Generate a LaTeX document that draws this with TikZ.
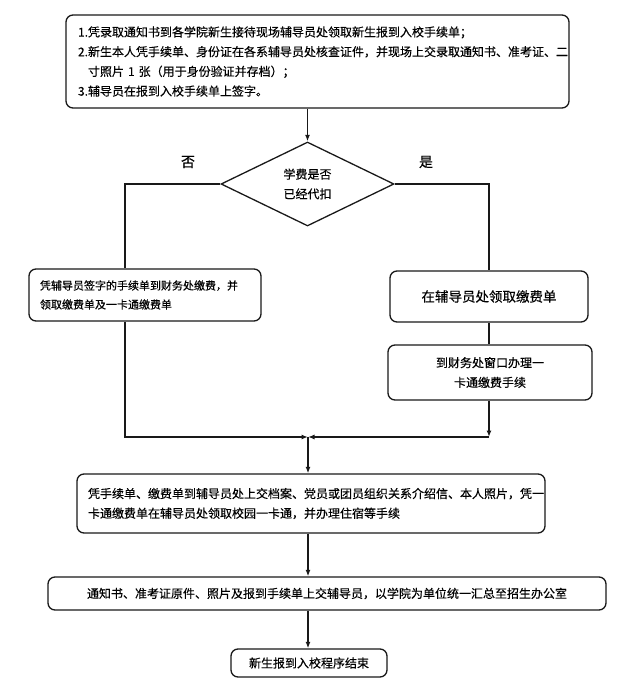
\documentclass[tikz,border=0pt]{standalone}
\usepackage{fontspec}
\newfontfamily\cjk{Noto Sans CJK SC}[FakeBold=0.4]
\usetikzlibrary{shapes.geometric, arrows.meta}

\def\boxrad{7pt}

\begin{document}
\begin{tikzpicture}[x=1pt, y=-1pt, line width=1.3pt, draw=black!90, >={Latex[length=6.5pt, width=5pt]}]
    \tikzstyle{every node}=[font=\cjk\fontsize{12}{19.7}\selectfont]
    \tikzstyle{stepbox}=[draw, rounded corners=\boxrad, inner sep=0pt, align=center]
    \tikzstyle{textbox}=[stepbox, inner xsep=11pt, align=left]
    \tikzstyle{decision}=[draw, diamond, aspect=2, inner sep=0pt, minimum width=173pt, minimum height=84pt, align=center]
    \tikzstyle{answer}=[font=\cjk\fontsize{14}{16}\selectfont]
    \tikzstyle{arr}=[->]

    \useasboundingbox (0,0) rectangle (630,692);

    % steps
    \node[textbox, inner xsep=12pt, text width=479pt, minimum height=93pt] (start) at (317.5,61.5)
        {1.凭录取通知书到各学院新生接待现场辅导员处领取新生报到入校手续单；\\
         2.新生本人凭手续单、身份证在各系辅导员处核查证件，并现场上交录取通知书、准考证、二\\
         \hspace*{10pt}寸照片 1 张（用于身份验证并存档）；\\
         3.辅导员在报到入校手续单上签字。};

    \node[decision] (paid) at (307.5,184) {学费是否\\已经代扣};
    \node[answer] (no) at (188,162) {否};
    \node[answer] (yes) at (426,162) {是};

    \node[textbox, text width=210pt, minimum height=52pt, font=\cjk\fontsize{11}{19}\selectfont] (pay) at (145,295)
        {凭辅导员签字的手续单到财务处缴费，并\\领取缴费单及一卡通缴费单};
    \node[stepbox, minimum width=198pt, minimum height=51pt, font=\cjk\fontsize{13.5}{16}\selectfont] (bill) at (489,296.5)
        {在辅导员处领取缴费单};
    \node[stepbox, minimum width=204pt, minimum height=55pt] (card) at (490,372.5)
        {到财务处窗口办理一\\卡通缴费手续};

    \coordinate (merge) at (308,437);

    \node[textbox, text width=446pt, minimum height=59pt] (archive) at (311,503.5)
        {凭手续单、缴费单到辅导员处上交档案、党员或团员组织关系介绍信、本人照片，凭一\\卡通缴费单在辅导员处领取校园一卡通，并办理住宿等手续};
    \node[stepbox, minimum width=558pt, minimum height=33pt] (submit) at (327,593.5)
        {通知书、准考证原件、照片及报到手续单上交辅导员，以学院为单位统一汇总至招生办公室};
    \node[stepbox, minimum width=156pt, minimum height=28pt] (finish) at (309,663)
        {新生报到入校程序结束};

    % connectors
    \draw[arr] (paid.north |- start.south) -- (paid.north);
    \draw (paid.west) -| ([xshift=-20pt]pay.north);
    \draw (paid.east) -| (bill.north);
    \draw (bill.south) -- (bill.south |- card.north);
    \draw[arr] (bill.south |- card.south) -- (bill.south |- merge);
    \draw[arr] ([xshift=-20pt]pay.south) |- (merge);
    \draw[arr] (bill.south |- merge) -- (merge);
    \draw[arr] (merge) -- (merge |- archive.north);
    \draw[arr] (merge |- archive.south) -- (merge |- submit.north);
    \draw[arr] (merge |- submit.south) -- (merge |- finish.north);
\end{tikzpicture}
\end{document}
